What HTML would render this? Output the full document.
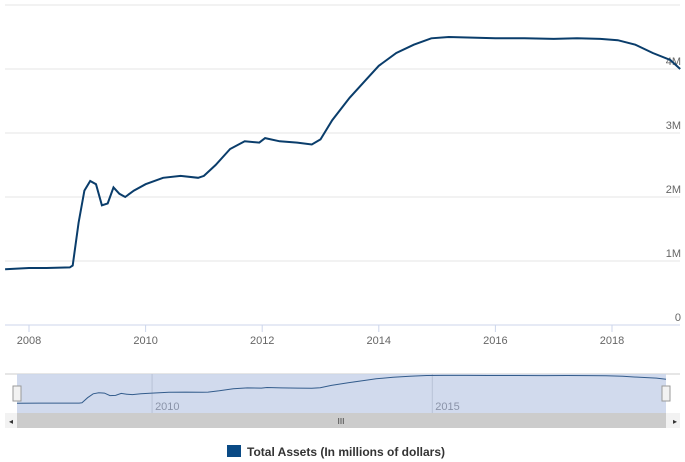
<!DOCTYPE html>
<html><head><meta charset="utf-8"><style>
body{margin:0;background:#fff;font-family:"Liberation Sans",sans-serif;}
svg{display:block}
</style></head><body>
<svg id="c" width="685" height="462" xmlns="http://www.w3.org/2000/svg"></svg>
<script>
const dates=[2007.59,2008.0,2008.3,2008.7,2008.75,2008.85,2008.95,2009.05,2009.15,2009.25,2009.35,2009.45,2009.55,2009.65,2009.8,2010.0,2010.3,2010.6,2010.9,2011.0,2011.2,2011.45,2011.7,2011.95,2012.05,2012.3,2012.6,2012.85,2013.0,2013.2,2013.5,2013.8,2014.0,2014.3,2014.6,2014.9,2015.2,2015.6,2016.0,2016.5,2017.0,2017.4,2017.8,2018.1,2018.4,2018.7,2019.0,2019.17];
const assets=[0.87,0.89,0.89,0.90,0.93,1.6,2.1,2.25,2.2,1.87,1.9,2.15,2.05,2.0,2.1,2.2,2.3,2.33,2.3,2.33,2.5,2.75,2.87,2.85,2.92,2.87,2.85,2.82,2.9,3.2,3.55,3.85,4.05,4.25,4.38,4.48,4.5,4.49,4.48,4.48,4.47,4.48,4.47,4.45,4.38,4.25,4.14,4.0];
const yTicks=[0,1,2,3,4];
const yLabels=["0","1M","2M","3M","4M"];
const xTicks=[2008,2010,2012,2014,2016,2018];
const navTicks=[2010,2015];
const ns="http://www.w3.org/2000/svg",svg=document.getElementById('c');
function el(t,a,p){const e=document.createElementNS(ns,t);for(const k in a)e.setAttribute(k,a[k]);(p||svg).appendChild(e);return e;}
const x=d=>29+(d-2008)*58.3;
const y=v=>325-v*64;
const nx=d=>17+(d-2007.59)*(649/(2019.17-2007.59));
const ny=v=>410-v*7.7;
// grid
let g=el('line',{x1:5,x2:680,y1:5,y2:5,stroke:'#e6e6e6'});

yTicks.forEach((t,i)=>{
 const l=el('line',{x1:5,x2:680,y1:y(t),y2:y(t),stroke:i==0?'#ccd6eb':'#e6e6e6'});
 
 const tx=el('text',{x:681,y:y(t)-4,'text-anchor':'end','font-size':11,fill:'#666'});
 tx.textContent=yLabels[i];
 
});
xTicks.forEach(t=>{
 const l=el('line',{x1:x(t),x2:x(t),y1:325,y2:332,stroke:'#ccd6eb'});
 
 const tx=el('text',{x:x(t),y:344,'text-anchor':'middle','font-size':11,fill:'#666'});
 tx.textContent=t;
 
});
const p=el('path',{d:dates.map((d,i)=>(i?'L':'M')+x(d).toFixed(1)+','+y(assets[i]).toFixed(1)).join(''),fill:'none',stroke:'#0a3d6b','stroke-width':2});

// navigator
const nb=el('rect',{x:5,y:373,width:675,height:40,fill:'#fff'});

const nl=el('line',{x1:5,x2:680,y1:374,y2:374,stroke:'#ccc'});

const ns2=el('rect',{x:17,y:374,width:649,height:39,fill:'#ccd6eb',opacity:0.9});

navTicks.forEach(t=>{
 const l=el('line',{x1:nx(t),x2:nx(t),y1:374,y2:413,stroke:'#b8c2d6'});
 
 const tx=el('text',{x:nx(t)+3,y:410,'font-size':11,fill:'#8a93a8'});tx.textContent=t;
 
});
const np=el('path',{d:dates.map((d,i)=>(i?'L':'M')+nx(d).toFixed(1)+','+ny(assets[i]).toFixed(1)).join(''),fill:'none',stroke:'#335c8c','stroke-width':1});

[17,666].forEach(hx=>{
 const h=el('rect',{x:hx-4,y:386,width:8,height:15,fill:'#f2f2f2',stroke:'#999'});
 
});
const sb=el('rect',{x:5,y:413,width:675,height:15,fill:'#f2f2f2'});

const th=el('rect',{x:17,y:413,width:649,height:15,fill:'#cccccc'});

const grip=el('text',{x:341,y:424,'text-anchor':'middle','font-size':8,fill:'#333'});grip.textContent='III';

const la=el('text',{x:9,y:424,'font-size':8,fill:'#333'});la.textContent='◂';

const ra=el('text',{x:673,y:424,'font-size':8,fill:'#333'});ra.textContent='▸';

// legend
const ls=el('rect',{x:227,y:445,width:14,height:12,fill:'#0a4a85'});

const lt=el('text',{x:247,y:456,'font-size':12,'font-weight':'bold',fill:'#333'});lt.textContent='Total Assets (In millions of dollars)';

</script>
</body></html>
